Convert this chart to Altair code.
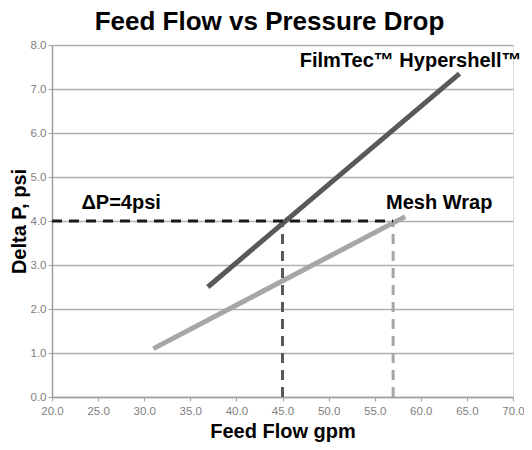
import altair as alt
import pandas as pd

# Data
hyper_x = [36.9, 64.2]
hyper_y = [2.5, 7.35]
mesh_x = [31.0, 58.3]
mesh_y = [1.1, 4.1]
dp_level = 4.0
hyper_at_dp = 45.0
mesh_at_dp = 57.0
x_min, x_max = 20.0, 70.0
y_min, y_max = 0.0, 8.0

label_text = ["FilmTec™ Hypershell™", "ΔP=4psi", "Mesh Wrap"]
label_x = [58.9, 27.5, 62.0]
label_y = [7.50, 4.27, 4.27]

xscale = alt.Scale(domain=[x_min, x_max], nice=False, zero=False)
yscale = alt.Scale(domain=[y_min, y_max], nice=False)

xax = alt.Axis(title="Feed Flow gpm", values=[20, 25, 30, 35, 40, 45, 50, 55, 60, 65, 70],
               format=".1f", grid=False, domainColor="#a0a0a0", domainWidth=1.5,
               tickColor="#a0a0a0", tickSize=4, labelColor="#808080", labelFontSize=11.5,
               labelFlush=False,
               labelFont="Liberation Sans", titleFont="Liberation Sans", titleFontSize=20,
               titleFontWeight="bold", titleColor="#000000", titlePadding=5,
               labelPadding=4)
yax = alt.Axis(title="Delta P, psi", values=[0, 1, 2, 3, 4, 5, 6, 7, 8],
               format=".1f", grid=True, gridColor="#b0b0b0", gridWidth=1.3,
               domainColor="#a0a0a0", domainWidth=1.5,
               tickColor="#a0a0a0", tickSize=4, labelColor="#808080", labelFontSize=11.5,
               labelFont="Liberation Sans", titleFont="Liberation Sans", titleFontSize=20,
               titleFontWeight="bold", titleColor="#000000", titlePadding=1,
               labelPadding=2)

hyper_df = pd.DataFrame({"x": hyper_x, "y": hyper_y})
mesh_df = pd.DataFrame({"x": mesh_x, "y": mesh_y})

base_axes = alt.Chart(pd.DataFrame({"x": [x_min], "y": [y_min]})).mark_point(opacity=0).encode(
    x=alt.X("x:Q", scale=xscale, axis=xax),
    y=alt.Y("y:Q", scale=yscale, axis=yax),
)

hyper = alt.Chart(hyper_df).mark_line(color="#595959", strokeWidth=5).encode(
    x=alt.X("x:Q", scale=xscale), y=alt.Y("y:Q", scale=yscale))
mesh = alt.Chart(mesh_df).mark_line(color="#a6a6a6", strokeWidth=5).encode(
    x=alt.X("x:Q", scale=xscale), y=alt.Y("y:Q", scale=yscale))

hline = alt.Chart(pd.DataFrame({"x": [x_min], "x2": [mesh_at_dp], "y": [dp_level]})).mark_rule(
    color="#1a1a1a", strokeWidth=3, strokeDash=[10, 7]).encode(
    x=alt.X("x:Q", scale=xscale), x2="x2:Q", y=alt.Y("y:Q", scale=yscale))

v1 = alt.Chart(pd.DataFrame({"x": [hyper_at_dp], "y": [y_min], "y2": [dp_level]})).mark_rule(
    color="#595959", strokeWidth=3, strokeDash=[10, 7]).encode(
    x=alt.X("x:Q", scale=xscale), y=alt.Y("y:Q", scale=yscale), y2="y2:Q")
v2 = alt.Chart(pd.DataFrame({"x": [mesh_at_dp], "y": [y_min], "y2": [dp_level]})).mark_rule(
    color="#a6a6a6", strokeWidth=3, strokeDash=[10, 7]).encode(
    x=alt.X("x:Q", scale=xscale), y=alt.Y("y:Q", scale=yscale), y2="y2:Q")

labels = alt.Chart(pd.DataFrame({"t": label_text, "x": label_x, "y": label_y})).mark_text(
    font="Liberation Sans", fontSize=20, fontWeight="bold", color="#000000",
    align="center", baseline="alphabetic").encode(
    x=alt.X("x:Q", scale=xscale), y=alt.Y("y:Q", scale=yscale), text="t:N")

chart = alt.layer(base_axes, hyper, mesh, v1, v2, hline, labels).properties(
    width=461, height=352,
    padding={"left": 44, "top": 37, "right": 11, "bottom": 45},
    autosize=alt.AutoSizeParams(type="none"),
    title=alt.TitleParams("Feed Flow vs Pressure Drop", font="Liberation Sans", fontSize=26,
                          fontWeight="bold", color="#000000", anchor="middle", dx=-13, offset=4),
).configure_view(stroke=None).configure(background="#ffffff")

chart.save("out.html", embed_options={"renderer": "svg", "actions": False})
